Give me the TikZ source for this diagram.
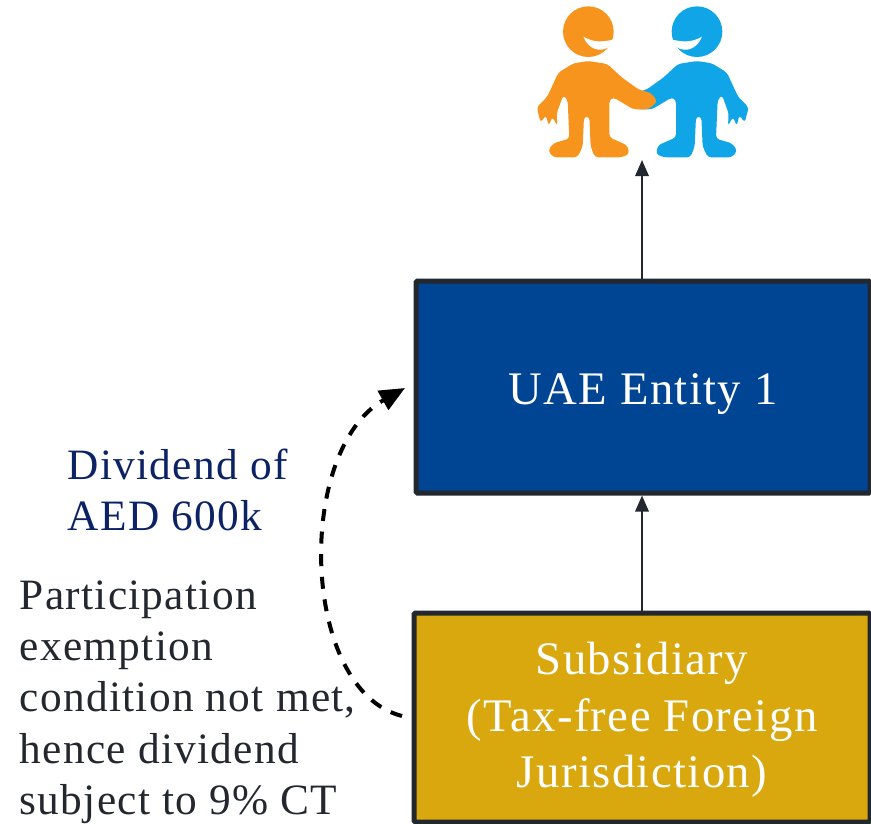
\documentclass[tikz,border=0pt]{standalone}
\usepackage{fontspec}
\setmainfont[LetterSpace=3]{Liberation Serif}
\usetikzlibrary{arrows.meta}
\definecolor{entityblue}{HTML}{004494}
\definecolor{subgold}{HTML}{D9A80E}
\definecolor{boxline}{HTML}{23272E}
\definecolor{divnavy}{HTML}{0B2265}
\definecolor{manorange}{HTML}{F7941D}
\definecolor{manblue}{HTML}{0FA5E6}
\tikzset{
	entitybox/.style={draw=boxline,line width=3.75pt,rounded corners=1pt,align=center,text=white,font=\fontsize{35}{42.5}\selectfont},
	sidetext/.style={anchor=west,align=left,font=\fontsize{32.5}{38.5}\selectfont},
	flowarrow/.style={boxline,line width=1.6pt,-{Triangle[length=12pt,width=10pt]}},
}
% one figure, measured in a 3x crop of the top of the picture
\newcommand{\personshape}[1]{
	\fill [#1] (205,95) circle (76);
	\fill [white] (190,110) .. controls (225,130) and (250,125) .. (285,118) -- (265,142) .. controls (240,158) and (205,148) .. cycle;
	\fill [#1,rounded corners=2.5pt] (205,183) -- (262,192) -- (305,232) -- (355,268) -- (395,280) -- (412,305) -- (385,328) -- (340,328) -- (280,292) -- (268,300) -- (268,412) -- (322,436) -- (328,462) -- (305,472) -- (225,472) -- (212,440) -- (208,350) -- (192,350) -- (188,440) -- (172,472) -- (100,472) -- (84,452) -- (100,430) -- (148,416) -- (143,300) -- (130,285) -- (110,340) -- (112,378) -- (97,350) -- (86,378) -- (78,345) -- (62,368) -- (50,322) -- (82,290) -- (115,218) -- (160,190) -- cycle;
}
\begin{document}
\begin{tikzpicture}[x=0.75pt,y=-0.75pt]
	\useasboundingbox (0,0) rectangle (871,824);
	\begin{scope}[shift={(520,0)},x=0.25pt,y=-0.25pt]
		\begin{scope}[shift={(736,0)},xscale=-1]
			\personshape{manblue}
		\end{scope}
		\personshape{manorange}
	\end{scope}
	\coordinate (people) at (642,160);
	\node [entitybox,fill=entityblue,minimum width=454*0.75pt,minimum height=212*0.75pt] (entity) at (643,387) {\raisebox{-13pt}[0pt][0pt]{UAE Entity 1}};
	\node [entitybox,fill=subgold,minimum width=456*0.75pt,minimum height=209*0.75pt] (sub) at (642,717.5) {\rule{0pt}{28pt}Subsidiary\\(Tax-free Foreign\\Jurisdiction)};
	\node [sidetext,text=divnavy] (dividend) at (63,490) {Dividend of\\AED 600k};
	\node [sidetext,text=boxline] (exempt) at (15,702) {Participation\\exemption\\condition not met,\\hence dividend\\subject to 9\% CT};
	\draw [flowarrow] (entity.north -| people) -- (people);
	\draw [flowarrow] (sub.north -| people) -- (entity.south -| people);
	\coordinate (divstart) at (402,716);
	\coordinate (divend) at (405,388);
	\draw [black,line width=3pt,dash pattern=on 9pt off 8pt,-{Triangle[length=19pt,width=16pt]}] (divstart) .. controls (300,690) and (295,450) .. (divend);
\end{tikzpicture}
\end{document}
